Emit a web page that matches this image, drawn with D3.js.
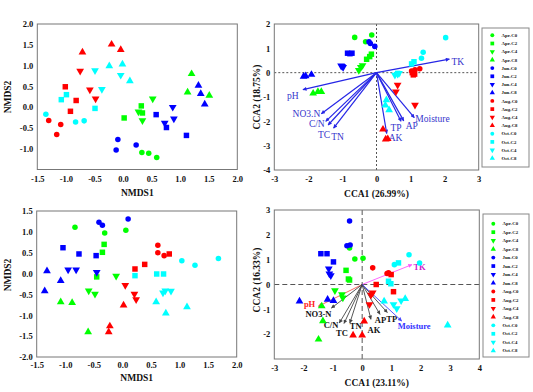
<!DOCTYPE html>
<html><head><meta charset="utf-8">
<script src="https://cdn.jsdelivr.net/npm/d3@7"></script>
<style>
body{margin:0;background:#fff}
svg{display:block}
text{font-family:"Liberation Serif","Times New Roman",serif}
</style>
</head><body>
<svg id="c" width="533" height="392"></svg>
<script>
// ---------- data ----------
const months = ["Apr","Jun","Aug","Oct"];
const monthColors = ["#00ff00","#0000ff","#ff0000","#00ffff"];
const levels = ["C0","C2","C4","C8"];
const groups = months.flatMap(m => levels.map(l => m + "-" + l));

const nmdsTopXTicks = [-1.5,-1.0,-0.5,0.0,0.5,1.0,1.5,2.0];
const nmdsTopYTicks = [-1.0,-0.5,0.0,0.5,1.0,1.5,2.0];
const ccaTopXTicks = [-3,-2,-1,0,1,2,3];
const ccaTopYTicks = [-4,-3,-2,-1,0,1,2];
const nmdsBotXTicks = [-1.5,-1.0,-0.5,0.0,0.5,1.0,1.5,2.0];
const nmdsBotYTicks = [-2.0,-1.5,-1.0,-0.5,0.0,0.5,1.0,1.5];
const ccaBotXTicks = [-3,-2,-1,0,1,2,3,4];
const ccaBotYTicks = [-2,-1,0,1,2,3];

const nmdsTopPoints = [
 ["Apr-C0",0.33,-1.09],["Apr-C0",0.45,-1.11],["Apr-C0",0.59,-1.21],
 ["Apr-C2",0.32,0.03],["Apr-C2",0.34,-0.14],["Apr-C2",0.02,-0.26],
 ["Apr-C4",0.52,0.20],["Apr-C4",0.27,-0.11],["Apr-C4",0.34,-0.32],
 ["Apr-C8",1.20,0.80],["Apr-C8",1.13,0.36],["Apr-C8",1.51,0.28],
 ["Jun-C0",-0.09,-0.78],["Jun-C0",-0.12,-1.03],["Jun-C0",0.23,-0.91],
 ["Jun-C2",0.58,-0.18],["Jun-C2",0.76,-0.49],["Jun-C2",1.11,-0.68],
 ["Jun-C4",0.87,0.00],["Jun-C4",0.89,-0.28],["Jun-C4",0.73,-0.38],
 ["Jun-C8",1.32,0.52],["Jun-C8",1.36,0.32],["Jun-C8",1.43,0.07],
 ["Aug-C0",-1.30,-0.32],["Aug-C0",-1.09,-0.42],["Aug-C0",-1.16,-0.66],
 ["Aug-C2",-1.01,0.49],["Aug-C2",-0.82,0.16],["Aug-C2",-0.92,-0.10],
 ["Aug-C4",-0.75,0.87],["Aug-C4",-0.58,0.42],["Aug-C4",-0.48,0.20],
 ["Aug-C8",-0.71,1.32],["Aug-C8",-0.20,1.51],["Aug-C8",-0.04,1.38],
 ["Oct-C0",-1.35,-0.17],["Oct-C0",-0.83,-0.36],["Oct-C0",-0.68,-0.33],
 ["Oct-C2",-1.08,0.18],["Oct-C2",-0.99,0.30],["Oct-C2",-0.49,-0.03],
 ["Oct-C4",-0.49,0.88],["Oct-C4",-0.04,0.77],["Oct-C4",-0.37,0.43],
 ["Oct-C8",-0.24,0.99],["Oct-C8",-0.01,1.03],["Oct-C8",0.12,0.63]
];

const ccaTopPoints = [
 ["Apr-C0",-0.64,1.45],["Apr-C0",-0.14,1.55],["Apr-C0",-0.32,1.27],
 ["Apr-C2",-0.15,0.76],["Apr-C2",-0.20,0.66],["Apr-C2",-0.29,0.55],
 ["Apr-C4",-0.41,0.30],["Apr-C4",-0.46,0.22],["Apr-C4",-0.52,0.10],
 ["Apr-C8",-1.86,-0.85],["Apr-C8",-1.72,-0.78],["Apr-C8",-1.62,-0.78],
 ["Jun-C0",-0.22,1.27],["Jun-C0",-0.18,1.20],["Jun-C0",-0.05,1.08],
 ["Jun-C2",-0.85,0.80],["Jun-C2",-0.72,0.80],["Jun-C2",-0.78,0.78],
 ["Jun-C4",-1.04,0.28],["Jun-C4",-0.98,0.22],["Jun-C4",-1.01,0.26],
 ["Jun-C8",-2.14,-0.16],["Jun-C8",-2.08,-0.14],["Jun-C8",-1.91,-0.08],
 ["Aug-C0",1.27,0.16],["Aug-C0",1.13,0.12],["Aug-C0",1.03,0.07],
 ["Aug-C2",1.08,-0.09],["Aug-C2",1.05,0.00],["Aug-C2",1.12,-0.06],
 ["Aug-C4",0.62,-0.51],["Aug-C4",0.57,-0.78],["Aug-C4",1.13,-1.33],
 ["Aug-C8",0.19,-2.33],["Aug-C8",0.27,-2.74],["Aug-C8",0.33,-2.72],
 ["Oct-C0",2.03,1.44],["Oct-C0",1.37,0.84],["Oct-C0",1.32,0.59],
 ["Oct-C2",1.03,0.36],["Oct-C2",1.10,0.45],["Oct-C2",0.62,-0.03],
 ["Oct-C4",0.54,-0.10],["Oct-C4",0.62,-0.06],["Oct-C4",0.66,-0.02],
 ["Oct-C8",0.29,-1.12],["Oct-C8",0.26,-1.34],["Oct-C8",0.37,-1.53]
];

const ccaTopVectors = [
 ["TK",2.14,0.56],["pH",-2.16,-0.70],["NO3.N",-1.62,-1.69],["C/N",-1.49,-2.00],
 ["TC",-1.42,-2.15],["TN",-1.26,-2.28],["AK",0.30,-2.50],["TP",0.72,-2.00],
 ["AP",0.80,-1.98],["Moisture",1.11,-1.85]
];

const nmdsBotPoints = [
 ["Apr-C0",-0.83,1.11],["Apr-C0",-0.31,0.97],["Apr-C0",0.06,1.04],
 ["Apr-C2",-0.32,0.70],["Apr-C2",-0.35,0.51],["Apr-C2",-0.45,-0.08],
 ["Apr-C4",-0.11,-0.06],["Apr-C4",-0.59,-0.41],["Apr-C4",-0.48,-0.49],
 ["Apr-C8",-1.08,-0.68],["Apr-C8",-0.88,-0.70],["Apr-C8",-0.60,-1.40],
 ["Jun-C0",-0.41,1.23],["Jun-C0",-0.35,1.16],["Jun-C0",0.10,1.31],
 ["Jun-C2",-1.04,0.62],["Jun-C2",-0.76,0.47],["Jun-C2",-0.46,0.43],
 ["Jun-C4",-0.95,0.09],["Jun-C4",-0.81,0.09],["Jun-C4",-0.45,0.03],
 ["Jun-C8",-1.32,0.06],["Jun-C8",-1.08,-0.17],["Jun-C8",-1.36,-0.42],
 ["Aug-C0",0.62,0.68],["Aug-C0",0.62,0.50],["Aug-C0",0.73,0.43],
 ["Aug-C2",0.82,0.47],["Aug-C2",0.39,0.22],["Aug-C2",0.22,0.11],
 ["Aug-C4",0.05,-0.28],["Aug-C4",0.21,-0.49],["Aug-C4",0.24,-0.62],
 ["Aug-C8",0.02,-0.76],["Aug-C8",-0.22,-1.26],["Aug-C8",-0.24,-1.40],
 ["Oct-C0",1.04,0.31],["Oct-C0",1.27,0.20],["Oct-C0",1.68,0.36],
 ["Oct-C2",0.22,-0.05],["Oct-C2",0.60,-0.01],["Oct-C2",0.72,-0.01],
 ["Oct-C4",0.71,-0.46],["Oct-C4",0.75,-0.41],["Oct-C4",0.85,-0.42],
 ["Oct-C8",0.59,-0.68],["Oct-C8",0.76,-0.95],["Oct-C8",1.13,-0.80]
];

const ccaBotPoints = [
 ["Apr-C0",-0.43,1.47],["Apr-C0",-0.25,1.03],["Apr-C0",0.03,1.06],
 ["Apr-C2",-0.55,0.57],["Apr-C2",-0.43,0.18],["Apr-C2",-0.47,0.22],
 ["Apr-C4",-0.93,-0.24],["Apr-C4",-0.69,-0.40],["Apr-C4",-0.66,-0.53],
 ["Apr-C8",-1.38,-0.87],["Apr-C8",-1.34,-1.47],["Apr-C8",-1.49,-2.21],
 ["Jun-C0",-0.43,2.56],["Jun-C0",-0.52,1.56],["Jun-C0",-0.41,1.59],
 ["Jun-C2",-1.41,1.24],["Jun-C2",-1.20,1.24],["Jun-C2",-0.98,0.91],
 ["Jun-C4",-1.14,0.63],["Jun-C4",-1.12,0.43],["Jun-C4",-1.07,0.36],
 ["Jun-C8",-2.14,-0.67],["Jun-C8",-1.18,-0.60],["Jun-C8",-0.98,-0.65],
 ["Aug-C0",0.36,0.67],["Aug-C0",0.90,0.47],["Aug-C0",0.85,0.44],
 ["Aug-C2",0.99,0.40],["Aug-C2",0.48,0.00],["Aug-C2",1.07,-0.29],
 ["Aug-C4",0.36,-0.33],["Aug-C4",0.25,-0.80],["Aug-C4",0.30,-0.42],
 ["Aug-C8",0.07,-1.48],["Aug-C8",-0.31,-2.04],["Aug-C8",0.00,-2.04],
 ["Oct-C0",1.60,1.20],["Oct-C0",1.96,0.87],["Oct-C0",1.10,0.80],
 ["Oct-C2",1.24,0.87],["Oct-C2",0.90,0.13],["Oct-C2",0.98,0.03],
 ["Oct-C4",1.07,-0.80],["Oct-C4",1.18,-0.97],["Oct-C4",1.33,-0.65],
 ["Oct-C8",0.75,-0.67],["Oct-C8",1.47,-0.57],["Oct-C8",2.92,-1.64]
];

const ccaBotVectors = [
 ["TK",1.70,0.80],["pH",-1.50,-0.88],["NO3-N",-1.05,-0.95],["C/N",-0.78,-1.55],
 ["TC",-0.62,-1.57],["TN",-0.42,-1.55],["AK",0.30,-1.40],["AP",0.61,-1.20],
 ["TP",0.86,-1.13],["Moisture",1.35,-1.47]
];

// ---------- styles (label placement: dx, dy, anchor, text colour, line colour) ----------
const topLabelStyle = {
 "TK":[2,2.5,"start"],"pH":[-10,6,"middle"],"NO3.N":[-1,0,"end"],"C/N":[-1,2.5,"end"],
 "TC":[-4,9.5,"middle"],"TN":[4,9,"middle"],"AK":[2,4,"start"],"TP":[-5,6,"middle"],
 "AP":[8,5,"middle"],"Moisture":[1,0.5,"start"]
};
const botLabelStyle = {
 "TK":[1.5,2.3,"start","#cc22cc","#ff55ff"],"pH":[-3,-2,"end","#ff2222","#ff5555"],
 "NO3-N":[0,6,"end","#111","#444"],"C/N":[-1,2,"end","#111","#444"],
 "TC":[-2,10,"middle","#111","#444"],"TN":[0,3.5,"start","#111","#444"],
 "AK":[3,11,"middle","#111","#444"],"AP":[0.5,5.7,"middle","#111","#444"],
 "TP":[-1,6,"start","#111","#444"],"Moisture":[-4,5.5,"start","#3333ff","#4444ff"]
};

const svg = d3.select("#c");
const defs = svg.append("defs");
let markerCount = 0;
function marker(color){
  const id = "arrow" + (markerCount++);
  defs.append("marker").attr("id",id).attr("viewBox","0 0 10 10")
    .attr("refX",9).attr("refY",5).attr("markerWidth",5).attr("markerHeight",4)
    .attr("markerUnits","userSpaceOnUse").attr("orient","auto")
    .append("path").attr("d","M0,0L10,5L0,10z").attr("fill",color);
  return id;
}

function colorOf(g){ return monthColors[months.indexOf(g.split("-")[0])]; }
function symPath(g, size){
  const l = g.split("-")[1];
  const t = l==="C0"?d3.symbolCircle: l==="C2"?d3.symbolSquare: d3.symbolTriangle;
  return d3.symbol().type(t).size(size)();
}
function drawSym(sel, g, x, y, size){
  const l = g.split("-")[1];
  sel.append("path").attr("d", symPath(g,size))
    .attr("transform", `translate(${x},${y})` + (l==="C4" ? " rotate(180)" : ""))
    .attr("fill", colorOf(g));
}

const fmt1 = d => d.toFixed(1);
const fmt0 = d => String(d);

function panel(cfg){
  const x = d3.scaleLinear().domain(cfg.xd).range(cfg.xr);
  const y = d3.scaleLinear().domain(cfg.yd).range(cfg.yr);
  const g = svg.append("g");
  const xa = g.append("g").attr("transform",`translate(0,${cfg.yr[0]})`)
    .call(d3.axisBottom(x).tickValues(cfg.xt).tickFormat(cfg.fmt).tickSize(0).tickPadding(cfg.xpad));
  const ya = g.append("g").attr("transform",`translate(${cfg.xr[0]},0)`)
    .call(d3.axisLeft(y).tickValues(cfg.yt).tickFormat(cfg.fmt).tickSize(0).tickPadding(4));
  [xa,ya].forEach(a=>{
    a.select(".domain").remove();
    a.selectAll("text").attr("font-family","Liberation Serif, Times New Roman, serif")
      .attr("font-weight","bold").attr("font-size",8.5).attr("fill","#111");
  });
  if(cfg.zero){
    g.append("line").attr("x1",x(0)).attr("x2",x(0)).attr("y1",cfg.yr[0]).attr("y2",cfg.yr[1])
      .attr("stroke","#555").attr("stroke-width",1).attr("stroke-dasharray",cfg.zero);
    g.append("line").attr("x1",cfg.xr[0]).attr("x2",cfg.xr[1]).attr("y1",y(0)).attr("y2",y(0))
      .attr("stroke","#555").attr("stroke-width",1).attr("stroke-dasharray",cfg.zero);
  }
  if(cfg.vectors){
    cfg.vectors.forEach(v=>{
      const st = cfg.labelStyle[v[0]];
      const lc = st[4] || cfg.vecColor;
      const tc = st[3] || cfg.vecText;
      const mid = marker(lc);
      g.append("line").attr("x1",x(0)).attr("y1",y(0)).attr("x2",x(v[1])).attr("y2",y(v[2]))
        .attr("stroke",lc).attr("stroke-width",cfg.vecWidth).attr("marker-end",`url(#${mid})`);
      g.append("text").attr("x",x(v[1])+st[0]).attr("y",y(v[2])+st[1]).attr("dy","0.35em")
        .attr("text-anchor",st[2]).attr("font-size",cfg.vecFont).attr("font-weight",cfg.vecWeight)
        .attr("fill",tc).text(v[0]);
    });
  }
  const pg = g.append("g");
  cfg.points.forEach(p => drawSym(pg, p[0], x(p[1]), y(p[2]), p[0].endsWith("C0")?24:(p[0].endsWith("C2")?30:26)));
  g.append("rect").attr("x",cfg.xr[0]).attr("y",cfg.yr[1]).attr("width",cfg.xr[1]-cfg.xr[0])
    .attr("height",cfg.yr[0]-cfg.yr[1]).attr("fill","none").attr("stroke","#777").attr("stroke-width",1);
  g.append("text").attr("x",(cfg.xr[0]+cfg.xr[1])/2).attr("y",cfg.xtY).attr("dy","0.35em")
    .attr("text-anchor","middle").attr("font-size",9.5).attr("font-weight","bold").attr("fill","#111").text(cfg.xTitle);
  g.append("text").attr("transform",`translate(${cfg.ytX},${cfg.ytY}) rotate(-90)`).attr("dy","0.35em")
    .attr("text-anchor","middle").attr("font-size",9.5).attr("font-weight","bold").attr("fill","#111").text(cfg.yTitle);
  if(cfg.legend){
    const L = cfg.legend;
    g.append("rect").attr("x",L.x0).attr("y",L.y0).attr("width",L.x1-L.x0).attr("height",L.y1-L.y0)
      .attr("fill","#fff").attr("stroke","#888").attr("stroke-width",1);
    groups.forEach((gr,i)=>{
      const yy = L.first + i*L.step;
      drawSym(g, gr, L.mx, yy, gr.endsWith("C2")?14:12);
      g.append("text").attr("x",L.tx).attr("y",yy).attr("dy","0.35em").attr("font-size",4.8)
        .attr("font-weight","bold").attr("fill","#111").text(gr);
    });
  }
}

panel({xd:[-1.5,2.0],xr:[37.3,237.3],yd:[-1.5,2.0],yr:[169.5,24],xt:nmdsTopXTicks,yt:nmdsTopYTicks,
  fmt:fmt1,xpad:6,points:nmdsTopPoints,xTitle:"NMDS1",yTitle:"NMDS2",xtY:193,ytX:8,ytY:97});

panel({xd:[-3,3],xr:[274.3,478.7],yd:[-4,2],yr:[170,24],xt:ccaTopXTicks,yt:ccaTopYTicks,
  fmt:fmt0,xpad:6,points:ccaTopPoints,zero:"2,2",vectors:ccaTopVectors,labelStyle:topLabelStyle,
  vecColor:"#2626e6",vecText:"#3535cc",vecWidth:1.2,vecFont:9.5,vecWeight:"normal",
  xTitle:"CCA1 (26.99%)",yTitle:"CCA2 (18.75%)",xtY:194,ytX:257,ytY:97,
  legend:{x0:482,y0:28,x1:529,y1:167,first:35.3,step:8.2,mx:492.3,tx:501.5}});

panel({xd:[-1.5,2.0],xr:[36.7,236.7],yd:[-2.0,1.5],yr:[357,211],xt:nmdsBotXTicks,yt:nmdsBotYTicks,
  fmt:fmt1,xpad:5,points:nmdsBotPoints,xTitle:"NMDS1",yTitle:"NMDS2",xtY:378,ytX:8,ytY:275});

panel({xd:[-3,4],xr:[274.3,479.3],yd:[-3,3],yr:[359,210],xt:ccaBotXTicks,yt:ccaBotYTicks,
  fmt:fmt0,xpad:6,points:ccaBotPoints,zero:"5,3",vectors:ccaBotVectors,labelStyle:botLabelStyle,
  vecColor:"#444",vecText:"#111",vecWidth:0.9,vecFont:8.5,vecWeight:"bold",
  xTitle:"CCA1 (23.11%)",yTitle:"CCA2 (16.33%)",xtY:383,ytX:257,ytY:280,
  legend:{x0:483,y0:214,x1:529,y1:357,first:223.7,step:8.47,mx:493.3,tx:502.5}});
</script>
</body></html>
